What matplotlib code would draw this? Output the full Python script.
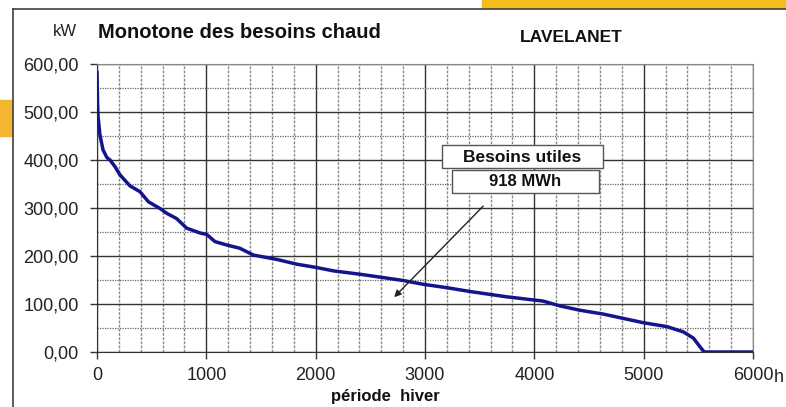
import matplotlib
matplotlib.use("Agg")
import matplotlib.pyplot as plt
from matplotlib.patches import Rectangle
from matplotlib.lines import Line2D
from matplotlib.ticker import FuncFormatter, MultipleLocator

plt.rcParams['font.family'] = ['Liberation Sans', 'DejaVu Sans']

hours = [0, 5, 10, 27, 55, 91, 119, 165, 210, 302, 393, 470, 576, 637, 728, 820,
         942, 1003, 1079, 1186, 1308, 1430, 1643, 1826, 2009, 2162, 2405, 2650,
         2800, 2985, 3200, 3412, 3747, 4082, 4235, 4418, 4631, 4997, 5210, 5362,
         5454, 5515, 5546, 5550, 6000]
kw = [582, 520, 490, 452, 421, 405, 400, 386, 369, 346, 334, 313, 299, 289, 278,
      258, 248, 245, 230, 223, 216, 202, 193, 183, 176, 169, 162, 154, 149, 141,
      134, 126, 115, 106, 96, 87, 79, 61, 53, 42, 29, 11, 2, 0, 0]
x_ticks = [0, 1000, 2000, 3000, 4000, 5000, 6000]
y_ticks = [0, 100, 200, 300, 400, 500, 600]

W, H = 786, 407
fig = plt.figure(figsize=(W / 100, H / 100), dpi=100)

def fx(px):
    return px / W

def fy(py):
    return 1 - py / H

# decorations
fig.patches.append(Rectangle((fx(482), fy(8)), 1 - fx(482), 8 / H,
                             transform=fig.transFigure, color='#F5BC1A', zorder=0))
fig.patches.append(Rectangle((0, fy(136)), 12 / W, 36 / H,
                             transform=fig.transFigure, color='#F4B630', zorder=0))
fig.lines.append(Line2D([fx(13), 1], [fy(9), fy(9)], transform=fig.transFigure,
                        color='#404040', lw=1.2))
fig.lines.append(Line2D([fx(13), fx(13)], [0, fy(9)], transform=fig.transFigure,
                        color='#404040', lw=1.2))

ax = fig.add_axes([fx(97), fy(352), (753 - 97) / W, (352 - 64) / H])
ax.set_xlim(0, 6000)
ax.set_ylim(0, 600)
ax.set_xticks(x_ticks)
ax.set_yticks(y_ticks)
ax.xaxis.set_minor_locator(MultipleLocator(200))
ax.yaxis.set_minor_locator(MultipleLocator(50))
ax.yaxis.set_major_formatter(FuncFormatter(lambda v, p: f"{v:.2f}".replace('.', ',')))

ax.grid(True, which='major', color='#333333', lw=1.0)
ax.grid(True, which='minor', axis='y', color='#666666', lw=0.9, ls=(0, (1, 1)))
ax.grid(True, which='minor', axis='x', color='#8a8a8a', lw=1.0, ls=(0, (2, 1)))
ax.set_axisbelow(True)

ax.tick_params(which='major', direction='out', length=5, width=1, color='#333333',
               labelsize=13, labelcolor='#222222')
ax.tick_params(axis='y', pad=8)
ax.tick_params(axis='x', pad=6)
ax.tick_params(which='minor', length=0)
for s in ['top', 'right']:
    ax.spines[s].set_color('#888888')
for s in ['left', 'bottom']:
    ax.spines[s].set_color('#333333')

ax.plot(hours, kw, color='#14148C', lw=2.5, zorder=3)

# annotation arrow
ax.annotate('', xy=(2700, 110), xytext=(3550, 308),
            arrowprops=dict(arrowstyle='-|>', color='#222222', lw=1.0,
                            mutation_scale=10), zorder=4)
# annotation boxes
for (x0, y0, x1, y1) in [(442, 145, 603, 168), (452, 170, 599, 193)]:
    fig.patches.append(Rectangle((fx(x0), fy(y1)), (x1 - x0) / W, (y1 - y0) / H,
                                 transform=fig.transFigure, fc='white', ec='#555555',
                                 lw=1.0, zorder=5))
fig.text(fx(522), fy(157), 'Besoins utiles', ha='center', va='center',
         fontsize=12.5, fontweight='bold', color='#111111', zorder=6)
fig.text(fx(525), fy(182), '918 MWh', ha='center', va='center',
         fontsize=12, fontweight='bold', color='#111111', zorder=6)

fig.text(fx(53), fy(32), 'kW', ha='left', va='center', fontsize=12, color='#222222')
fig.text(fx(98), fy(32), 'Monotone des besoins chaud', ha='left', va='center',
         fontsize=14.5, fontweight='bold', color='#111111')
fig.text(fx(571), fy(37), 'LAVELANET', ha='center', va='center',
         fontsize=12.5, fontweight='bold', color='#111111')
fig.text(fx(385), fy(397), 'période  hiver', ha='center', va='center',
         fontsize=12, fontweight='bold', color='#111111')
fig.text(fx(779), fy(378), 'h', ha='center', va='center', fontsize=13, color='#222222')

fig.savefig('out.png', dpi=100)
